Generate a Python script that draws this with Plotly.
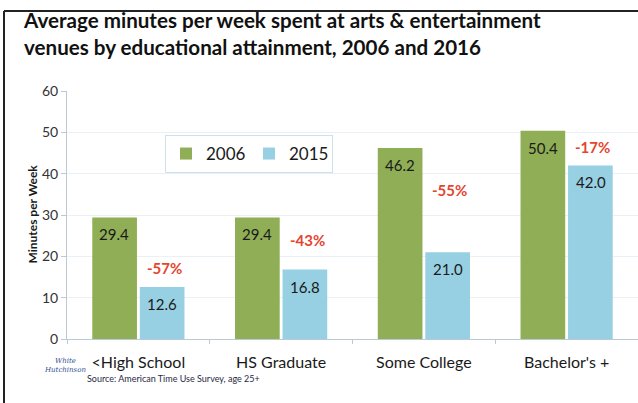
import plotly.graph_objects as go

# Data
categories = ["<High School", "HS Graduate", "Some College", "Bachelor's +"]
minutes_2006 = [29.4, 29.4, 46.2, 50.4]
minutes_2015 = [12.6, 16.8, 21.0, 42.0]
y_ticks = [0, 10, 20, 30, 40, 50, 60]

# Percent change from 2006 to 2015, shown in red beside each pair
pct_change = [round((b - a) / a * 100) for a, b in zip(minutes_2006, minutes_2015)]
pct_label_y = [17.2, 24.0, 36.1, 46.5]

W, H = 638, 403
ML, MR, MT, MB = 67, 0, 91, 64
PW, PH = W - ML - MR, H - MT - MB

def px_x(px):
    return (px - ML) / PW

def px_y(py):
    return (H - MB - py) / PH

FONT = "Lato, 'Open Sans', sans-serif"
GREEN = "#8fae55"
BLUE = "#97d0e3"
RED = "#e5452f"

fig = go.Figure()
fig.add_trace(go.Bar(x=categories, y=minutes_2006, name="2006",
                     marker=dict(color=GREEN, line=dict(width=0))))
fig.add_trace(go.Bar(x=categories, y=minutes_2015, name="2015",
                     marker=dict(color=BLUE, line=dict(width=0))))

annotations = []
# value labels just inside the top of each bar
for cat, v06, v15 in zip(categories, minutes_2006, minutes_2015):
    for v, dx in ((v06, -24), (v15, 24)):
        annotations.append(dict(x=cat, y=v, xref="x", yref="y", xshift=dx, yshift=-17,
                                text=f"{v:.1f}", showarrow=False,
                                font=dict(family=FONT, size=15, color="#1a1a1a")))
# percent change labels
for cat, p, ly in zip(categories, pct_change, pct_label_y):
    annotations.append(dict(x=cat, y=ly, xref="x", yref="y", xshift=26,
                            text=f"<b>{p}%</b>", showarrow=False,
                            font=dict(family=FONT, size=15, color=RED)))
# y axis title
annotations.append(dict(x=px_x(22), y=px_y(214), xref="paper", yref="paper",
                        text="<b>Minutes per Week</b>", textangle=-90, showarrow=False,
                        font=dict(family=FONT, size=12, color="#1a1a1a")))
# logo text
annotations.append(dict(x=px_x(42), y=px_y(376), xref="paper", yref="paper",
                        text="<i>White<br>Hutchinson</i>", showarrow=False,
                        font=dict(family="'DejaVu Serif', serif", size=7, color="#2f4f93")))
# source note
annotations.append(dict(x=px_x(85), y=px_y(386), xref="paper", yref="paper",
                        xanchor="left", text="Source: American Time Use Survey, age 25+",
                        showarrow=False,
                        font=dict(family=FONT, size=9, color="#1f2a44")))

# outer frame (top and left edges visible)
shapes = [
    dict(type="line", xref="paper", yref="paper", x0=px_x(4), x1=px_x(640),
         y0=px_y(11), y1=px_y(11), line=dict(color="#222222", width=2)),
    dict(type="line", xref="paper", yref="paper", x0=px_x(4), x1=px_x(4),
         y0=px_y(11), y1=px_y(405), line=dict(color="#222222", width=2)),
]

fig.update_layout(
    width=W, height=H,
    margin=dict(l=ML, r=MR, t=MT, b=MB),
    paper_bgcolor="white", plot_bgcolor="white",
    barmode="group", bargap=0.334, bargroupgap=0.06,
    title=dict(text="<b>Average minutes per week spent at arts & entertainment<br>"
                    "venues by educational attainment, 2006 and 2016</b>",
               xref="container", yref="container", x=24 / W, xanchor="left",
               y=1 - 28 / H, yanchor="top",
               font=dict(family=FONT, size=20.6, color="#111111")),
    legend=dict(orientation="h", x=px_x(165), y=px_y(135), xanchor="left", yanchor="top",
                bgcolor="white", bordercolor="#cfe0ec", borderwidth=1,
                font=dict(family=FONT, size=17, color="#1a1a1a"),
                itemwidth=30, entrywidth=38, entrywidthmode="pixels",
                traceorder="normal"),
    xaxis=dict(type="category", range=[-0.5, 3.5], showline=True, linecolor="#b8cad8",
               linewidth=1, ticks="outside", tickson="boundaries", ticklen=4,
               tickcolor="#b8cad8", ticklabelstandoff=9,
               tickfont=dict(family=FONT, size=16, color="#1a1a1a")),
    yaxis=dict(range=[0, 60], tickvals=y_ticks, showline=True, linecolor="#b8cad8",
               linewidth=1, ticks="outside", ticklen=5, tickcolor="#b8cad8",
               showgrid=True, gridcolor="#eaf1f6", gridwidth=1, zeroline=False,
               tickfont=dict(family=FONT, size=14, color="#333333")),
    annotations=annotations,
    shapes=shapes,
    showlegend=True,
)

fig.write_html("out.html")
